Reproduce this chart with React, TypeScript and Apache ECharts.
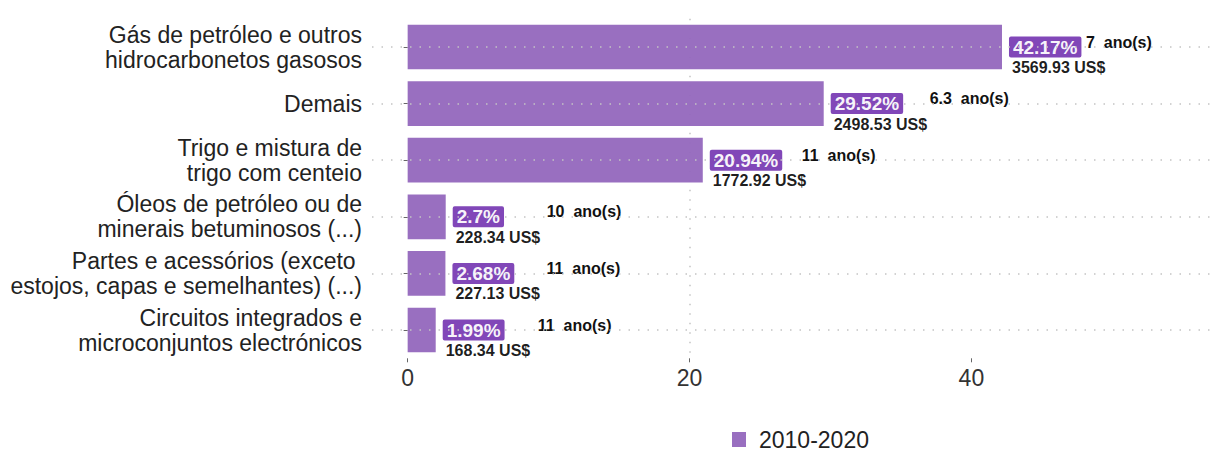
import React, { useEffect, useRef } from "react";
import * as echarts from "echarts";

const categories = [
  "Gás de petróleo e outros\nhidrocarbonetos gasosos",
  "Demais",
  "Trigo e mistura de\ntrigo com centeio",
  "Óleos de petróleo ou de\nminerais betuminosos (...)",
  "Partes e acessórios (exceto \nestojos, capas e semelhantes) (...)",
  "Circuitos integrados e\nmicroconjuntos electrónicos",
];
const shares = [42.17, 29.52, 20.94, 2.7, 2.68, 1.99];
const valuesUSD = [3569.93, 2498.53, 1772.92, 228.34, 227.13, 168.34];
const years = [7, 6.3, 11, 10, 11, 11];
const xTicks = [0, 20, 40];
const seriesName = "2010-2020";

// label styling (pixel shifts of the "ano(s)" labels from bar ends)
const anoShift = [84, 106, 99, 101, 101, 102];

const FONT = "'Liberation Sans', Arial, Helvetica, sans-serif";
const BAR = "#9467bd";
const BOX = "#7a3db4";
const GRID = { color: "#c4c4c4", width: 1.5, type: [1.5, 8] as any };

export default function App() {
  const ref = useRef<HTMLDivElement>(null);
  useEffect(() => {
    if (!ref.current) return;
    const chart = echarts.init(ref.current, undefined, { renderer: "svg" });
    chart.setOption({
      animation: false,
      textStyle: { fontFamily: FONT },
      grid: { left: 372, right: 0, top: 18.7, height: 339.6, containLabel: false },
      legend: {
        data: [seriesName],
        left: 727,
        top: 423,
        itemWidth: 14,
        itemHeight: 15,
        icon: "rect",
        textStyle: { fontSize: 23, color: "#222", fontFamily: FONT, padding: [0, 0, 0, 8] },
      },
      xAxis: {
        type: "value",
        min: -2.53,
        max: 57,
        splitNumber: 3,
        axisLine: { show: false },
        axisTick: { show: true, length: 4, customValues: xTicks, lineStyle: { color: "#666" } },
        axisLabel: { customValues: xTicks, fontSize: 23, color: "#333", margin: 8, fontFamily: FONT },
        splitLine: { show: true, showMinLine: false, showMaxLine: false, lineStyle: GRID },
      },
      yAxis: {
        type: "category",
        inverse: true,
        data: categories,
        axisLine: { show: false },
        axisTick: { show: true, alignWithLabel: true, length: 4, lineStyle: { color: "#666" } },
        axisLabel: { fontSize: 23, lineHeight: 25, color: "#222", margin: 10, fontFamily: FONT },
        splitLine: { show: false },
      },
      series: [
        {
          name: seriesName,
          type: "bar",
          barWidth: "79%",
          itemStyle: { color: BAR, opacity: 0.95 },
          data: shares.map((s, i) => ({ value: s, usd: valuesUSD[i] })),
          label: {
            show: true,
            position: "right",
            distance: 7,
            offset: [0, 10],
            formatter: (p: any) =>
              `{pct|${shares[p.dataIndex]}%}\n{usd|${valuesUSD[p.dataIndex].toFixed(2)} US$}`,
            rich: {
              pct: {
                backgroundColor: BOX,
                color: "#fff",
                fontSize: 19,
                fontWeight: "bold",
                fontFamily: FONT,
                padding: [1, 4, 1, 4],
                borderRadius: 2,
                lineHeight: 21,
              },
              usd: {
                color: "#111",
                fontSize: 16,
                fontWeight: "bold",
                fontFamily: FONT,
                lineHeight: 20,
                padding: [0, 0, 0, 3],
              },
            },
          },
          markLine: {
            silent: true,
            symbol: ["none", "none"],
            label: { show: false },
            lineStyle: GRID,
            data: categories.map((_, i) => ({ yAxis: i })),
          },
          z: 2,
        },
        {
          name: "anos",
          type: "bar",
          barWidth: "79%",
          barGap: "-100%",
          itemStyle: { color: "rgba(0,0,0,0)" },
          data: shares.map((s, i) => ({ value: s, label: { distance: anoShift[i] } })),
          label: {
            show: true,
            position: "right",
            offset: [0, -5],
            formatter: (p: any) => `${years[p.dataIndex]}  ano(s)`,
            color: "#111",
            fontSize: 16,
            fontWeight: "bold",
            fontFamily: FONT,
          },
          z: 3,
        },
      ],
    });
    return () => chart.dispose();
  }, []);
  return (
    <div
      ref={ref}
      style={{ position: "fixed", left: 0, top: 0, width: 1211, height: 454, background: "#fff" }}
    />
  );
}
